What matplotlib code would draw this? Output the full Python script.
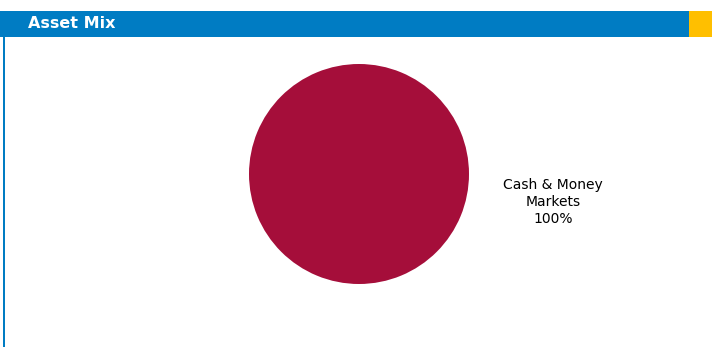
import matplotlib.pyplot as plt
from matplotlib.patches import Rectangle

categories = ['Cash & Money\nMarkets\n100%']
values = [100]
colors = ['#A50E3A']
title = 'Asset Mix'

W, H = 712, 347
fig = plt.figure(figsize=(W / 100, H / 100), dpi=100)
fig.patch.set_facecolor('white')

# header bar, left border, orange tab
fig.patches.append(Rectangle((0, 1 - 37 / H), 689 / W, 26 / H, transform=fig.transFigure,
                             facecolor='#007CC3', edgecolor='none'))
fig.patches.append(Rectangle((689 / W, 1 - 37 / H), 23 / W, 26 / H, transform=fig.transFigure,
                             facecolor='#FFBF00', edgecolor='none'))
fig.patches.append(Rectangle((3 / W, 0), 2 / W, 1 - 37 / H, transform=fig.transFigure,
                             facecolor='#007CC3', edgecolor='none'))
fig.text(28 / W, 1 - 24 / H, title, color='white', fontsize=11.5, fontweight='bold',
         va='center', ha='left')

# pie
ax = fig.add_axes([249 / W, 1 - 284 / H, 220 / W, 220 / H])
ax.pie(values, colors=colors, labels=categories, startangle=171.8, labeldistance=1.78,
       textprops=dict(fontsize=10, ha='center', va='center', linespacing=1.25),
       wedgeprops=dict(linewidth=0))
ax.set_aspect('equal')
ax.set_xlim(-1, 1)
ax.set_ylim(-1, 1)

fig.savefig('out.png', dpi=100)
